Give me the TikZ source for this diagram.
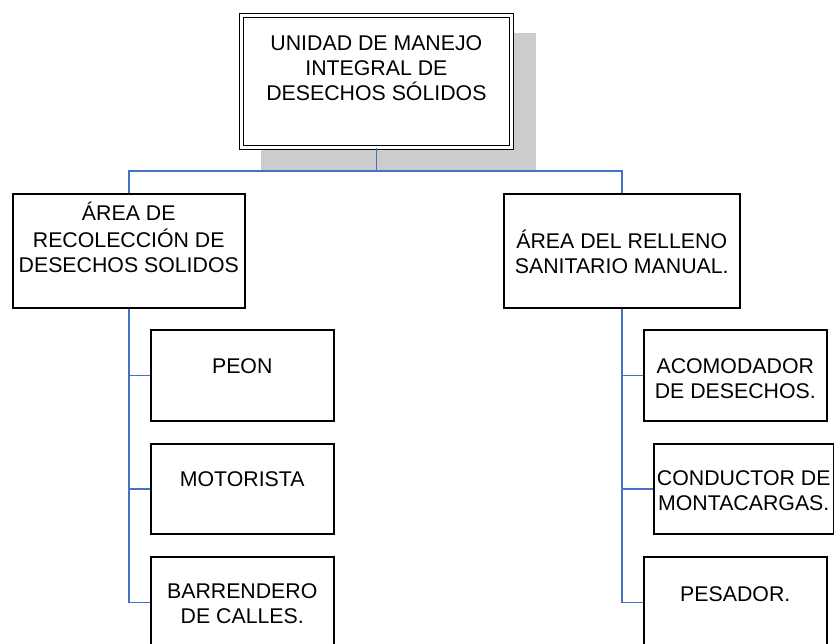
\documentclass[tikz,border=0pt]{standalone}
\usepackage{fontspec}
\setmainfont{Liberation Sans}
\usepackage{xcolor}
\usepackage{tikz}
\definecolor{linkblue}{HTML}{4472C4}
\definecolor{shadowgray}{HTML}{CCCCCC}
\newcommand{\unitbox}[4][25pt]{\parbox[c][#3][t]{#2}{\centering\vspace*{#1}\strut #4}}

\begin{document}
\begin{tikzpicture}[x=1pt, y=-1pt,
      unit/.style={draw, fill=white, line width=1.5pt, inner sep=0pt,
                   anchor=north west, font=\fontsize{21.3pt}{25pt}\selectfont},
      head/.style={unit, line width=1.3pt, double, double distance=2.7pt},
      link/.style={draw=linkblue, line width=1.5pt},
    ]
      \useasboundingbox (0,0) rectangle (834,643);
      \fill[shadowgray] (261,33) rectangle (536,170);

      \node[head] (top) at (241,15) {%
        \unitbox[17pt]{269.5pt}{132pt}{UNIDAD DE MANEJO\\INTEGRAL DE\\DESECHOS SÓLIDOS}};

      \node[unit] (recol) at (12,193) {%
        \unitbox[8pt]{232pt}{114pt}{ÁREA DE\\RECOLECCIÓN DE\\DESECHOS SOLIDOS}};
      \node[unit] (relleno) at (503,193) {%
        \unitbox[36pt]{236pt}{114pt}{ÁREA DEL RELLENO\\SANITARIO MANUAL.}};

      \node[unit] (peon) at (150,329) {\unitbox[26pt]{183pt}{91pt}{PEON}};
      \node[unit] (motor) at (150,443) {\unitbox[25pt]{183pt}{90pt}{MOTORISTA}};
      \node[unit] (barr) at (150,556) {%
        \unitbox[24pt]{183pt}{91pt}{BARRENDERO\\DE CALLES.}};

      \node[unit] (acom) at (643,329) {%
        \unitbox[26pt]{183pt}{91pt}{ACOMODADOR\\DE DESECHOS.}};
      \node[unit] (cond) at (653,443) {%
        \unitbox[24pt]{180pt}{90pt}{CONDUCTOR DE\\MONTACARGAS.}};
      \node[unit] (pesa) at (643,556) {\unitbox[27pt]{183pt}{91pt}{PESADOR.}};

      \coordinate (bus) at (top.south |- 0,171);
      \draw[link] (top.south) -- (bus);
      \draw[link] (bus) -| (recol.north);
      \draw[link] (bus) -| (relleno.north);

      \draw[link] (recol.south) |- (barr.west);
      \draw[link] (recol.south |- peon.west) -- (peon.west);
      \draw[link] (recol.south |- motor.west) -- (motor.west);

      \draw[link] (relleno.south) |- (pesa.west);
      \draw[link] (relleno.south |- acom.west) -- (acom.west);
      \draw[link] (relleno.south |- cond.west) -- (cond.west);
    \end{tikzpicture}
\end{document}
